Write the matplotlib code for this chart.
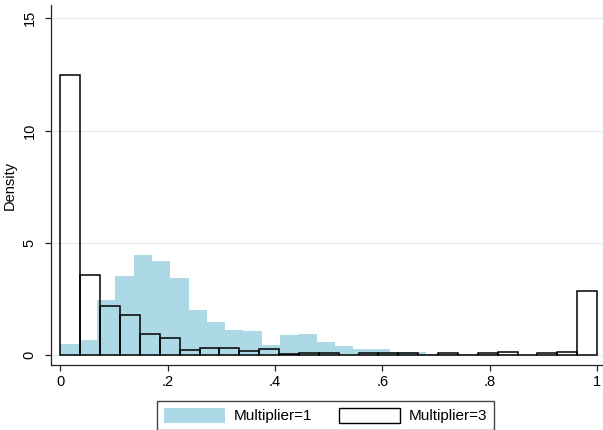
import numpy as np
import matplotlib.pyplot as plt
from matplotlib.patches import Patch

plt.rcParams['font.family'] = ['Liberation Sans', 'DejaVu Sans']

# Multiplier=1 histogram (density), bins start at 0
mult1_width = 0.0341
mult1_density = [0.49, 0.67, 2.44, 3.5, 4.46, 4.2, 3.45, 2.0, 1.47, 1.12,
                 1.07, 0.45, 0.88, 0.95, 0.58, 0.38, 0.26, 0.28, 0.15, 0.13,
                 0.03, 0.05, 0.05, 0.04, 0.03, 0.0, 0.0, 0.0, 0.0]

# Multiplier=3 histogram (density), 27 bins on [0, 1]
mult3_width = 1 / 27
mult3_density = [12.47, 3.57, 2.19, 1.76, 0.95, 0.77, 0.22, 0.29, 0.33, 0.16,
                 0.25, 0.05, 0.1, 0.1, 0.0, 0.1, 0.07, 0.07, 0.0, 0.1,
                 0.0, 0.1, 0.15, 0.0, 0.07, 0.13, 2.85]

x_ticks = [0, 0.2, 0.4, 0.6, 0.8, 1]
x_tick_labels = ['0', '.2', '.4', '.6', '.8', '1']
y_ticks = [0, 5, 10, 15]


def main():
    fig = plt.figure(figsize=(6.03, 4.30), dpi=100)
    ax = fig.add_axes([51 / 603, 65 / 430, 555 / 603, 360 / 430])

    left1 = np.arange(len(mult1_density)) * mult1_width
    left3 = np.arange(len(mult3_density)) * mult3_width

    ax.bar(left1, mult1_density, width=mult1_width, align='edge',
           color='#add8e6', linewidth=0, zorder=2)
    ax.bar(left3, mult3_density, width=mult3_width, align='edge',
           facecolor='none', edgecolor='black', linewidth=1.1, zorder=3)

    ax.set_xlim(-0.0177, 1.0168)
    ax.set_ylim(-0.445, 15.59)

    ax.set_yticks(y_ticks)
    ax.set_xticks(x_ticks)
    ax.set_xticklabels(x_tick_labels)
    ax.yaxis.grid(True, color='#e4eef0', linewidth=1.0, zorder=0)
    ax.set_axisbelow(True)

    for side in ['top', 'right']:
        ax.spines[side].set_visible(False)
    for side in ['left', 'bottom']:
        ax.spines[side].set_color('#222222')
        ax.spines[side].set_linewidth(0.9)

    ax.tick_params(axis='both', direction='out', length=4.5, width=0.9,
                   color='#222222', labelsize=10.5)
    ax.tick_params(axis='x', pad=3)
    ax.tick_params(axis='y', pad=6, labelrotation=90)
    for lab in ax.get_yticklabels():
        lab.set_va('center')
        lab.set_ha('right')

    ax.set_ylabel('Density', fontsize=10.5, labelpad=4)

    handles = [Patch(facecolor='#add8e6', edgecolor='none'),
               Patch(facecolor='white', edgecolor='black', linewidth=1.0)]
    fig.legend(handles, ['Multiplier=1', 'Multiplier=3'], ncol=2,
               loc='upper left', bbox_to_anchor=(157 / 603, 29 / 430),
               borderaxespad=0, fancybox=False, edgecolor='#444444',
               fontsize=11, handlelength=4.0, handleheight=1.1,
               handletextpad=0.6, columnspacing=1.7, borderpad=0.45,
               framealpha=1)

    fig.savefig('out.png', dpi=100)


if __name__ == "__main__":
    main()
